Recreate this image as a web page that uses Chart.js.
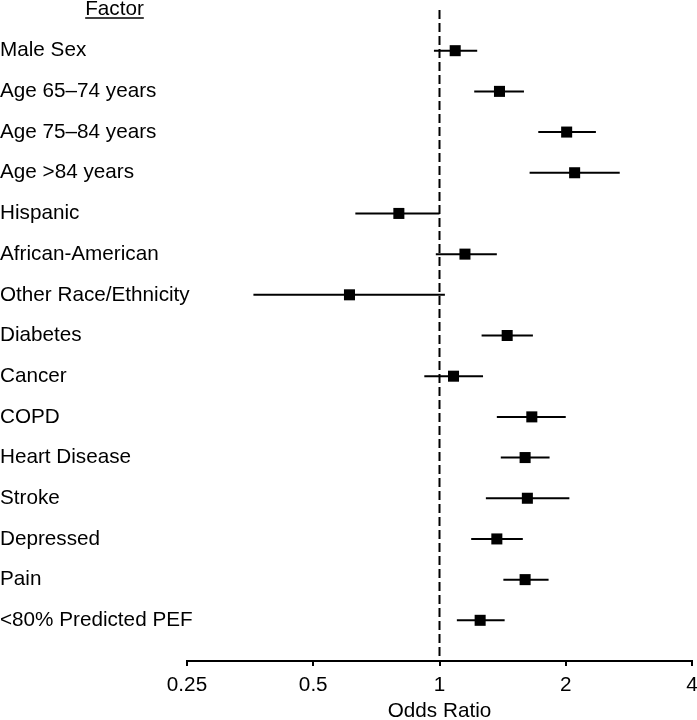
<!DOCTYPE html>
<html>
<head>
<meta charset="utf-8">
<script src="https://cdn.jsdelivr.net/npm/chart.js@4/dist/chart.umd.min.js"></script>
<style>
  html, body { margin: 0; padding: 0; background: #fff; }
  #wrap { width: 697px; height: 720px; position: relative; }
</style>
</head>
<body>
<div id="wrap"><canvas id="c" width="697" height="720"></canvas></div>
<script>
// ---- data ----
const headerLabel = 'Factor';
const factors = [
  'Male Sex', 'Age 65\u201374 years', 'Age 75\u201384 years', 'Age >84 years',
  'Hispanic', 'African-American', 'Other Race/Ethnicity', 'Diabetes', 'Cancer',
  'COPD', 'Heart Disease', 'Stroke', 'Depressed', 'Pain', '<80% Predicted PEF'
];
const oddsRatio = [1.09, 1.39, 2.01, 2.10, 0.80, 1.15, 0.61, 1.45, 1.08, 1.66, 1.60, 1.62, 1.37, 1.60, 1.25];
const ciLower   = [0.97, 1.21, 1.72, 1.64, 0.63, 0.98, 0.36, 1.26, 0.92, 1.37, 1.40, 1.29, 1.19, 1.42, 1.10];
const ciUpper   = [1.23, 1.59, 2.36, 2.69, 1.00, 1.37, 1.03, 1.67, 1.27, 2.00, 1.83, 2.04, 1.58, 1.82, 1.43];
const xTickValues = [0.25, 0.5, 1, 2, 4];
const xTickLabels = ['0.25', '0.5', '1', '2', '4'];
const referenceValue = 1;
const xTitle = 'Odds Ratio';

const FONT = '"Liberation Sans", Arial, Helvetica, sans-serif';
const FSIZE = 20.7;

const datasets = [];
factors.forEach((f, i) => {
  datasets.push({
    type: 'line',
    data: [{x: ciLower[i], y: i}, {x: ciUpper[i], y: i}],
    borderColor: '#000',
    borderWidth: 2,
    pointRadius: 0,
    pointHoverRadius: 0,
    fill: false,
    order: 2
  });
});
datasets.push({
  type: 'scatter',
  data: oddsRatio.map((v, i) => ({x: v, y: i})),
  pointStyle: 'rect',
  pointRadius: 7.8,
  pointHoverRadius: 7.8,
  backgroundColor: '#000',
  borderColor: '#000',
  borderWidth: 0,
  order: 1
});

const refLinePlugin = {
  id: 'refLine',
  beforeDatasetsDraw(chart) {
    const {ctx, chartArea} = chart;
    const x = chart.scales.x.getPixelForValue(referenceValue);
    ctx.save();
    ctx.strokeStyle = '#000';
    ctx.lineWidth = 2;
    ctx.setLineDash([9, 4]);
    ctx.beginPath();
    ctx.moveTo(x, chartArea.top);
    ctx.lineTo(x, chartArea.bottom);
    ctx.stroke();
    ctx.restore();
  }
};

// Row labels (left aligned at the canvas edge) and the underlined header
const labelPlugin = {
  id: 'rowLabels',
  afterDraw(chart) {
    const {ctx} = chart;
    const y = chart.scales.y;
    ctx.save();
    ctx.font = FSIZE + 'px ' + FONT;
    ctx.fillStyle = '#000';
    ctx.textAlign = 'left';
    ctx.textBaseline = 'middle';
    factors.forEach((f, i) => ctx.fillText(f, 0, y.getPixelForValue(i)));

    ctx.textAlign = 'center';
    ctx.textBaseline = 'alphabetic';
    const cx = 114.5, base = 15;
    ctx.fillText(headerLabel, cx, base);
    const w = ctx.measureText(headerLabel).width;
    ctx.strokeStyle = '#000';
    ctx.lineWidth = 1.5;
    ctx.beginPath();
    ctx.moveTo(cx - w / 2, base + 3);
    ctx.lineTo(cx + w / 2, base + 3);
    ctx.stroke();
    ctx.restore();
  }
};

new Chart(document.getElementById('c'), {
  type: 'scatter',
  data: { datasets },
  options: {
    responsive: false,
    animation: false,
    events: [],
    layout: { autoPadding: false, padding: { top: 10, left: 0, right: 0, bottom: 0 } },
    plugins: { legend: { display: false }, tooltip: { enabled: false } },
    scales: {
      x: {
        type: 'logarithmic',
        position: 'bottom',
        min: xTickValues[0],
        max: xTickValues[xTickValues.length - 1],
        afterBuildTicks: (s) => { s.ticks = xTickValues.map(v => ({value: v})); },
        afterFit: (s) => { s.height = 59; s.paddingRight = 5; s.paddingLeft = 0; },
        grid: { drawOnChartArea: false, drawTicks: true, tickLength: 5, color: '#000', lineWidth: 2 },
        border: { display: true, color: '#000', width: 2 },
        ticks: {
          color: '#000',
          font: { family: FONT, size: FSIZE, lineHeight: 1.16 },
          padding: 7,
          maxRotation: 0,
          autoSkip: false,
          callback: (v, i) => xTickLabels[i]
        },
        title: {
          display: true,
          text: xTitle,
          color: '#000',
          font: { family: FONT, size: FSIZE, lineHeight: 1 },
          padding: { top: 0, bottom: -2 }
        }
      },
      y: {
        type: 'linear',
        position: 'left',
        reverse: true,
        min: -1,
        max: factors.length,
        afterBuildTicks: (s) => { s.ticks = factors.map((_, i) => ({value: i})); },
        afterFit: (s) => { s.width = 187; },
        grid: { display: false },
        border: { display: false },
        ticks: { display: false }
      }
    }
  },
  plugins: [refLinePlugin, labelPlugin]
});
</script>
</body>
</html>
